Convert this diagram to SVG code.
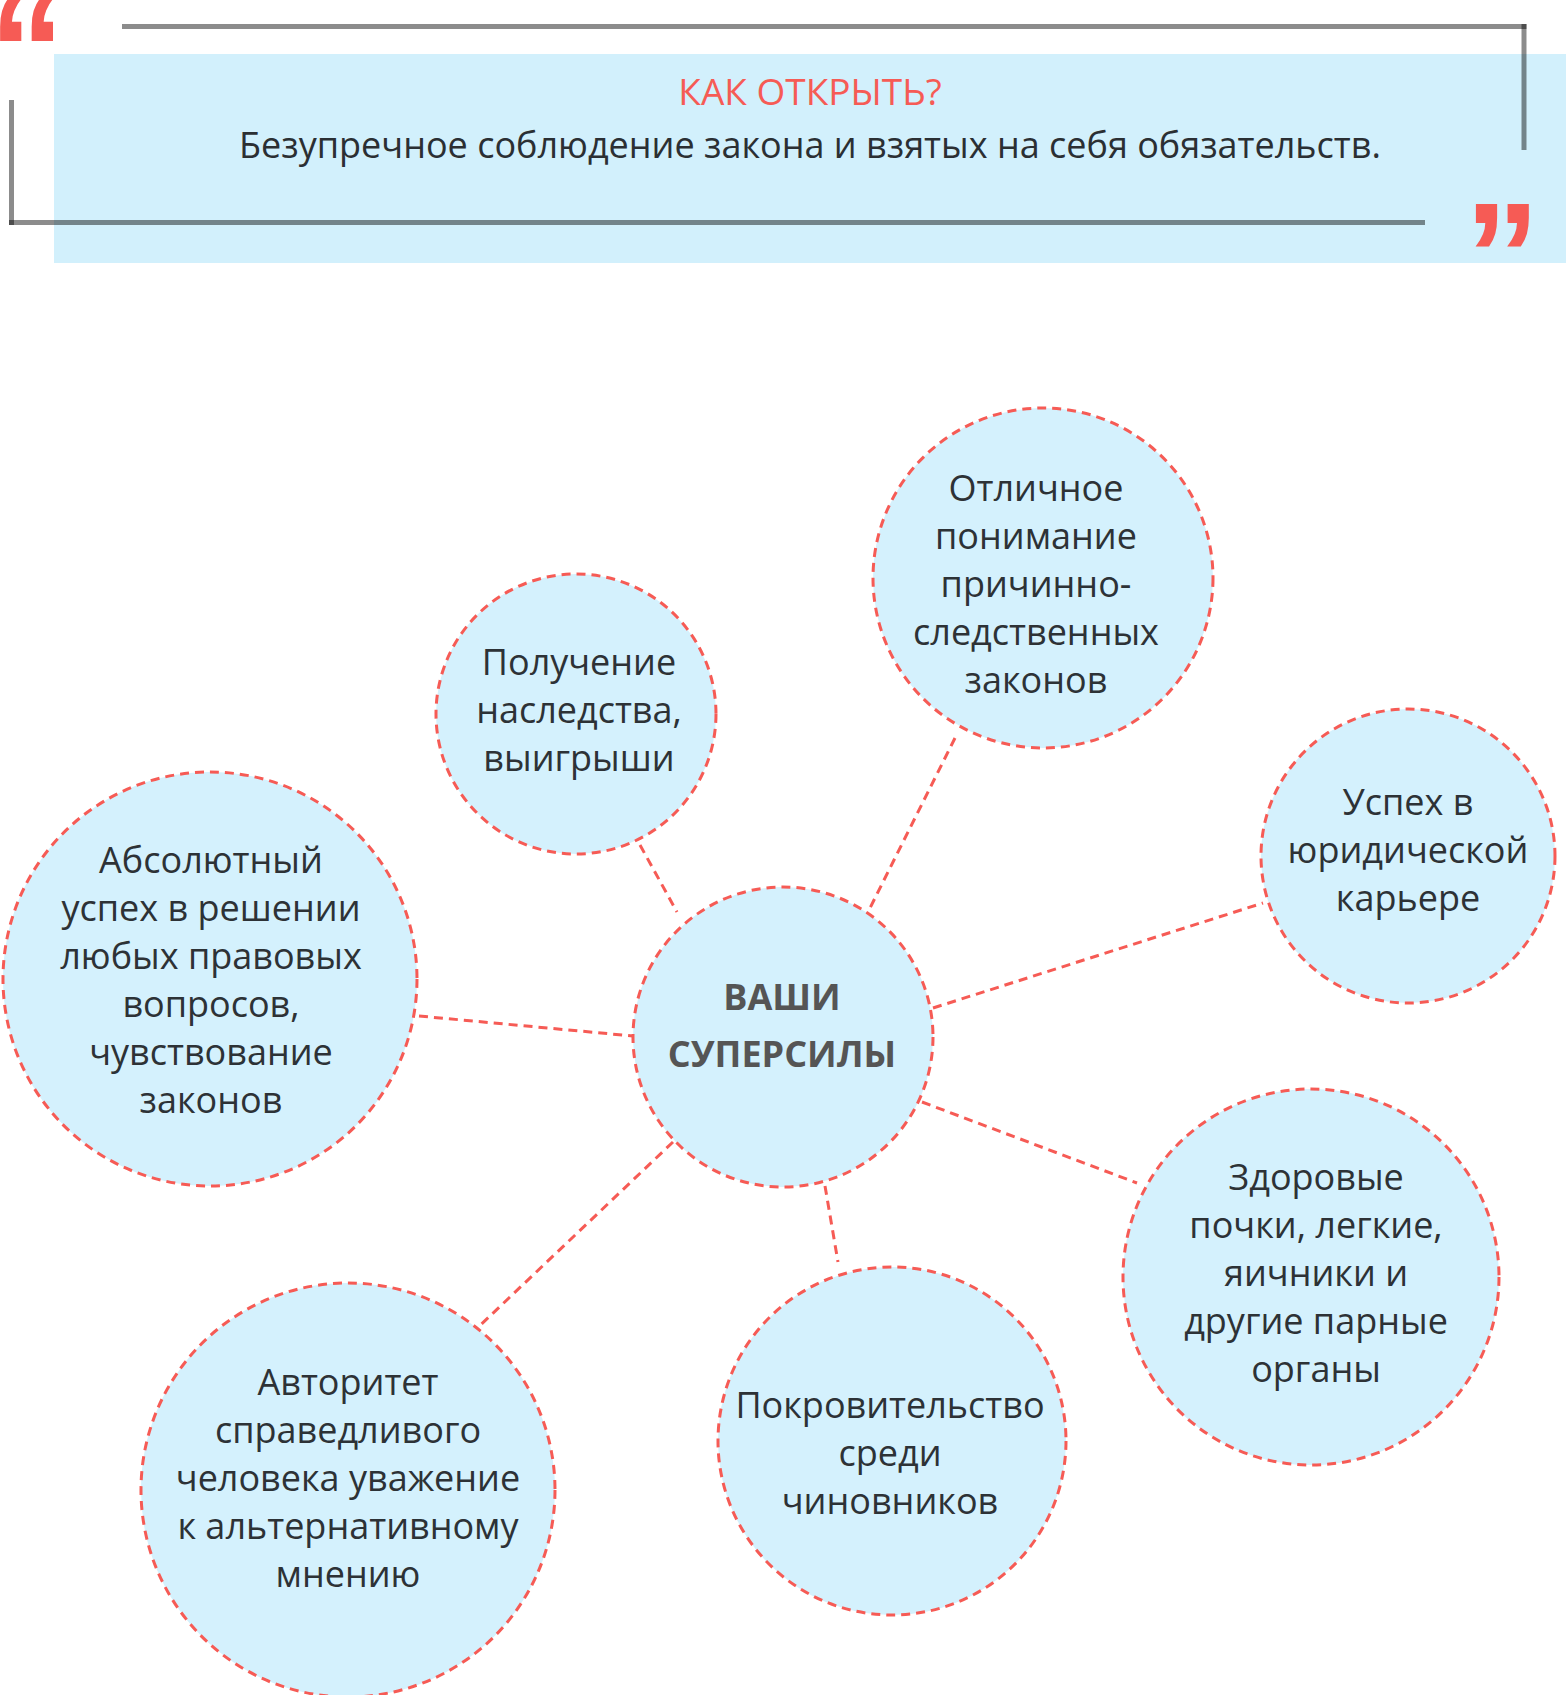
<svg xmlns="http://www.w3.org/2000/svg" width="1566" height="1695" viewBox="0 0 1566 1695">
<style>
.bg{fill:#d2f0fc}
.fr{stroke:#000;stroke-opacity:0.45;stroke-width:5;fill:none}
.q{fill:#f65b55;font-family:"Liberation Sans",Arial,sans-serif;font-weight:700;font-size:151px}
.ttl{fill:#f65b55;font-family:"Open Sans","DejaVu Sans",sans-serif;font-size:37px;text-anchor:middle}
.sub{fill:#2b2f33;font-family:"Open Sans","DejaVu Sans",sans-serif;font-size:36px;text-anchor:middle}
.node{fill:#d4f1fd;stroke:#f65b55;stroke-width:3;stroke-dasharray:9 6}
.conn line{stroke:#f65b55;stroke-width:3;stroke-dasharray:9 6}
.t{fill:#2d3236;font-family:"Open Sans","DejaVu Sans",sans-serif;font-size:36px;text-anchor:middle}
.tc{fill:#555;font-family:"Open Sans","DejaVu Sans",sans-serif;font-size:36px;font-weight:700;text-anchor:middle}
</style>
<g id="header">
<rect class="bg" x="54" y="54" width="1512" height="209"/>
<line class="fr" x1="122" y1="26.5" x2="1526.5" y2="26.5"/>
<line class="fr" x1="1524" y1="24" x2="1524" y2="150"/>
<line class="fr" x1="11.5" y1="100" x2="11.5" y2="225"/>
<line class="fr" x1="9" y1="222.5" x2="1425" y2="222.5"/>
<text class="q" transform="translate(-11,102)">“</text>
<text class="q" transform="translate(1464.5,306.5)">”</text>
<text class="ttl" x="810" y="105">КАК ОТКРЫТЬ?</text>
<text class="sub" x="810" y="158">Безупречное соблюдение закона и взятых на себя обязательств.</text>
</g>
<g id="connectors" class="conn">
<line x1="640" y1="845" x2="677" y2="912"/>
<line x1="955" y1="738" x2="867" y2="914"/>
<line x1="933" y1="1008" x2="1263" y2="903"/>
<line x1="922" y1="1102" x2="1137" y2="1183"/>
<line x1="825" y1="1186" x2="838" y2="1262"/>
<line x1="673" y1="1142" x2="470" y2="1335"/>
<line x1="419" y1="1016" x2="633" y2="1036"/>
</g>
<g id="node-center">
<circle class="node" cx="783" cy="1037" r="150"/>
<text class="tc" x="782" y="1010">ВАШИ</text>
<text class="tc" x="782" y="1067">СУПЕРСИЛЫ</text>
</g>
<g id="node-absolute">
<circle class="node" cx="210" cy="979" r="207"/>
<text class="t" x="211" y="873">Абсолютный</text>
<text class="t" x="211" y="921">успех в решении</text>
<text class="t" x="211" y="969">любых правовых</text>
<text class="t" x="211" y="1017">вопросов,</text>
<text class="t" x="211" y="1065">чувствование</text>
<text class="t" x="211" y="1113">законов</text>
</g>
<g id="node-inheritance">
<circle class="node" cx="576" cy="714" r="140"/>
<text class="t" x="579" y="675">Получение</text>
<text class="t" x="579" y="723">наследства,</text>
<text class="t" x="579" y="771">выигрыши</text>
</g>
<g id="node-causal">
<circle class="node" cx="1043" cy="578" r="170"/>
<text class="t" x="1036" y="501">Отличное</text>
<text class="t" x="1036" y="549">понимание</text>
<text class="t" x="1036" y="597">причинно-</text>
<text class="t" x="1036" y="645">следственных</text>
<text class="t" x="1036" y="693">законов</text>
</g>
<g id="node-career">
<circle class="node" cx="1408" cy="856" r="147"/>
<text class="t" x="1408" y="815">Успех в</text>
<text class="t" x="1408" y="863">юридической</text>
<text class="t" x="1408" y="911">карьере</text>
</g>
<g id="node-health">
<circle class="node" cx="1311" cy="1277" r="188"/>
<text class="t" x="1316" y="1190">Здоровые</text>
<text class="t" x="1316" y="1238">почки, легкие,</text>
<text class="t" x="1316" y="1286">яичники и</text>
<text class="t" x="1316" y="1334">другие парные</text>
<text class="t" x="1316" y="1382">органы</text>
</g>
<g id="node-patronage">
<circle class="node" cx="892" cy="1441" r="174"/>
<text class="t" x="890" y="1418">Покровительство</text>
<text class="t" x="890" y="1466">среди</text>
<text class="t" x="890" y="1514">чиновников</text>
</g>
<g id="node-authority">
<circle class="node" cx="348" cy="1490" r="207"/>
<text class="t" x="348" y="1395">Авторитет</text>
<text class="t" x="348" y="1443">справедливого</text>
<text class="t" x="348" y="1491">человека уважение</text>
<text class="t" x="348" y="1539">к альтернативному</text>
<text class="t" x="348" y="1587">мнению</text>
</g>
</svg>
